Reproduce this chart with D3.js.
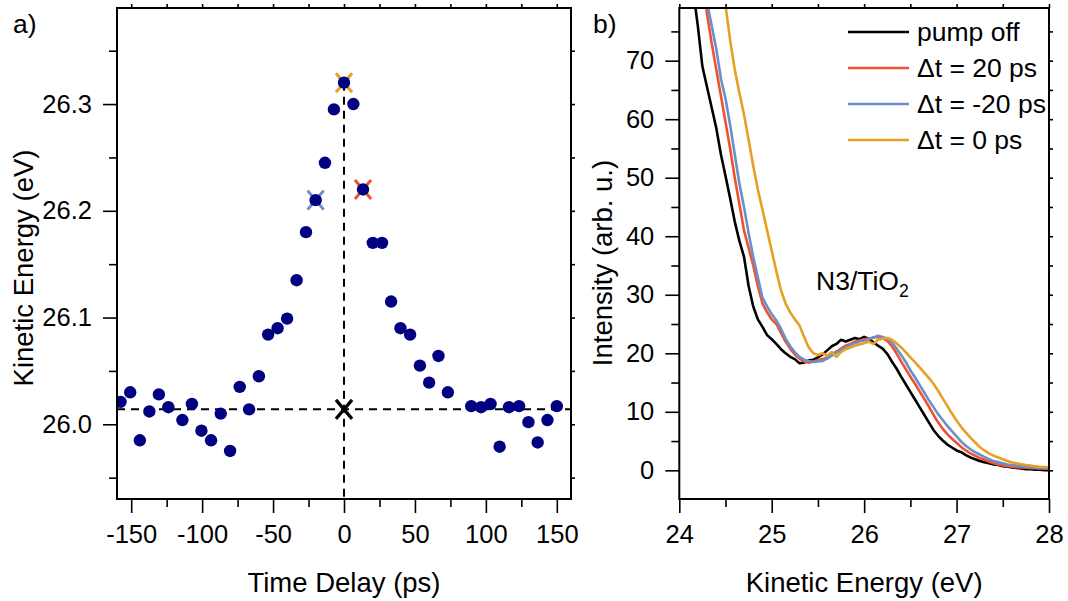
<!DOCTYPE html>
<html>
<head>
<meta charset="utf-8">
<script src="https://cdn.jsdelivr.net/npm/d3@7"></script>
<style>
  html, body { margin: 0; padding: 0; background: #fff; }
  svg text { font-family: "Liberation Sans", Arial, Helvetica, sans-serif; fill: #000; }
</style>
</head>
<body>
<svg id="fig" width="1068" height="601"></svg>
<script>
// ---- panel a) : peak position versus pump-probe delay ----
const delays = [-157.5, -150.7, -143.9, -137.2, -130.5, -123.8, -113.9, -107.2, -100.5, -93.7,
                -86.9, -80.3, -73.5, -66.9, -60.0, -53.5, -46.8, -40.1, -33.4, -26.8,
                -20.0, -13.4, -7.1, 0.0, 6.6, 13.4, 20.3, 26.8, 33.2, 39.8,
                46.6, 53.5, 60.0, 66.6, 73.2, 89.7, 96.6, 103.3, 109.7, 116.3,
                123.4, 130.0, 136.5, 143.4, 150.0];
const peakEnergies = [26.021, 26.030, 25.985, 26.012, 26.028, 26.016, 26.004, 26.019, 25.994, 25.985,
                      26.010, 25.975, 26.035, 26.014, 26.045, 26.084, 26.090, 26.099, 26.135, 26.180,
                      26.210, 26.245, 26.295, 26.320, 26.300, 26.220, 26.170, 26.170, 26.115, 26.090,
                      26.084, 26.055, 26.039, 26.064, 26.030, 26.017, 26.016, 26.019, 25.979, 26.016,
                      26.017, 26.002, 25.983, 26.004, 26.017];
// highlighted delays (matching the spectra in panel b)
const markDelays = [0, -20, 13.4];
const markEnergies = [26.32, 26.21, 26.22];
const markColors = ["#E8A024", "#6A8FCB", "#EE5230"];
// reference level (pump off)
const baseDelay = 0;
const baseEnergy = 26.014;

const xTicksA = [-150, -100, -50, 0, 50, 100, 150];
const xMinorA = [-125, -75, -25, 25, 75, 125];
const yTicksA = [26.0, 26.1, 26.2, 26.3];
const yMinorA = [25.95, 26.05, 26.15, 26.25, 26.35];

// ---- panel b) : photoemission spectra ----
const kineticEnergy = [24.10, 24.15, 24.20, 24.25, 24.30, 24.35, 24.40, 24.45, 24.50, 24.55,
                       24.60, 24.65, 24.70, 24.75, 24.80, 24.85, 24.90, 24.95, 25.00, 25.05,
                       25.10, 25.15, 25.20, 25.25, 25.30, 25.35, 25.40, 25.45, 25.50, 25.55,
                       25.60, 25.65, 25.70, 25.75, 25.80, 25.85, 25.90, 25.95, 26.00, 26.05,
                       26.10, 26.15, 26.20, 26.25, 26.30, 26.35, 26.40, 26.45, 26.50, 26.55,
                       26.60, 26.65, 26.70, 26.75, 26.80, 26.85, 26.90, 26.95, 27.00, 27.05,
                       27.10, 27.15, 27.20, 27.25, 27.30, 27.35, 27.40, 27.45, 27.50, 27.55,
                       27.60, 27.65, 27.70, 27.75, 27.80, 27.85, 27.90, 27.95, 28.00];
const pumpOff = [90, 82, 76, 69, 65.5, 62, 58.5, 54, 50.3, 46.5,
                 42.5, 39.2, 36.5, 31.5, 28, 25.8, 24.5, 23.1, 22.4, 21.6,
                 20.7, 20.0, 19.4, 19.0, 18.3, 18.4, 18.8, 18.9, 19.3, 19.8,
                 20.5, 21.2, 21.6, 22.3, 22.0, 22.3, 22.6, 22.4, 22.8, 22.5,
                 21.9, 21.3, 20.8, 19.9, 18.6, 17.4, 16.0, 14.7, 13.4, 12.1,
                 10.8, 9.5, 8.2, 6.9, 5.9, 5.1, 4.4, 3.9, 3.4, 3.1,
                 2.6, 2.2, 1.9, 1.6, 1.4, 1.2, 1.0, 0.9, 0.7, 0.6,
                 0.5, 0.4, 0.3, 0.2, 0.2, 0.1, 0.1, 0.0, 0.0];
const delayPlus20 = [null, null, null, 84, 78, 73, 68.5, 64, 59.5, 55,
                     50, 45.5, 41, 38, 35, 31.5, 28.5, 27, 25.8, 25,
                     23.5, 22, 20.8, 19.8, 19.1, 18.6, 18.4, 18.6, 18.8, 19.0,
                     19.3, 19.8, 20.3, 20.8, 21.3, 21.6, 22.0, 22.2, 22.4, 22.5,
                     22.7, 22.8, 22.6, 22.1, 21.2, 20.0, 18.6, 17.3, 16.0, 14.8,
                     13.5, 12.2, 10.9, 9.5, 8.2, 7.1, 6.2, 5.4, 4.7, 4.0,
                     3.4, 2.9, 2.5, 2.1, 1.8, 1.5, 1.2, 1.0, 0.85, 0.7,
                     0.6, 0.55, 0.5, 0.45, 0.4, 0.35, 0.3, 0.3, 0.3];
const delayMinus20 = [null, null, null, 86, 80, 76, 72, 67, 63.5, 59,
                      54, 49, 45, 40.5, 36.5, 33, 29.5, 28, 26.7, 25.6,
                      24.2, 22.5, 21.2, 20.2, 19.4, 18.9, 18.7, 18.5, 18.6, 18.7,
                      19.1, 19.6, 20.1, 20.6, 21.0, 21.4, 21.7, 22.0, 22.2, 22.4,
                      22.7, 23.0, 22.8, 22.5, 21.9, 20.8, 19.7, 18.5, 17.1, 15.9,
                      14.6, 13.3, 12.0, 10.8, 9.6, 8.6, 7.6, 6.7, 5.8, 4.9,
                      4.2, 3.6, 3.1, 2.7, 2.3, 1.9, 1.6, 1.4, 1.2, 1.0,
                      0.9, 0.8, 0.7, 0.6, 0.5, 0.45, 0.4, 0.35, 0.35];
const delayZero = [null, null, null, null, null, null, null, 84, 79.5, 73.5,
                   68.5, 64.5, 60.8, 56.5, 52, 48, 44.5, 41, 37.5, 34,
                   30.8, 28.5, 27.0, 25.8, 24.8, 22.8, 21.0, 20.0, 19.7, 20.0,
                   19.6, 20.2, 19.4, 20.2, 20.7, 21.0, 21.3, 21.5, 21.7, 22.0,
                   21.6, 22.3, 22.5, 22.6, 22.3, 21.7, 21.0, 20.2, 19.3, 18.5,
                   17.6, 16.7, 15.8, 14.8, 13.6, 12.3, 11.0, 9.7, 8.5, 7.4,
                   6.5, 5.6, 4.8, 4.0, 3.4, 2.9, 2.5, 2.2, 1.9, 1.6,
                   1.35, 1.2, 1.05, 0.9, 0.8, 0.7, 0.6, 0.55, 0.5];
const seriesNames = ["pump off", "\u0394t = 20 ps", "\u0394t = -20 ps", "\u0394t = 0 ps"];
const seriesColors = ["#000000", "#EE5230", "#6A8FCB", "#E8A024"];
const seriesValues = [pumpOff, delayPlus20, delayMinus20, delayZero];

const xTicksB = [24, 25, 26, 27, 28];
const xMinorB = [24.5, 25.5, 26.5, 27.5];
const yTicksB = [0, 10, 20, 30, 40, 50, 60, 70];
const yMinorB = [5, 15, 25, 35, 45, 55, 65, 75];

// ---- layout ----
const FS = 25.5;       // tick labels
const FT = 27.5;       // axis titles
const FL = 26.5;       // legend and annotations
const svg = d3.select("#fig");
const frameA = {x0: 117, x1: 571, y0: 8, y1: 499};
const frameB = {x0: 679.3, x1: 1049, y0: 8, y1: 499};

const xA = d3.scaleLinear().domain([-160, 160]).range([frameA.x0, frameA.x1]);
const yA = d3.scaleLinear().domain([25.93, 26.39]).range([frameA.y1, frameA.y0]);
const xB = d3.scaleLinear().domain([24, 28]).range([frameB.x0, frameB.x1]);
const yB = d3.scaleLinear().domain([-4.9, 79]).range([frameB.y1, frameB.y0]);

function styleAxis(g) {
  g.select(".domain").remove();
  g.selectAll(".tick line").attr("stroke", "#000").attr("stroke-width", 1.6);
  g.selectAll(".tick text").attr("font-size", FS).attr("fill", "#000");
}

function drawAxes(frame, xs, ys, xT, xM, yT, yM, xFmt, yFmt) {
  // bottom: major with labels, minor without
  svg.append("g").attr("transform", `translate(0,${frame.y1})`)
    .call(d3.axisBottom(xs).tickValues(xT).tickSize(14).tickPadding(12).tickFormat(xFmt))
    .call(styleAxis);
  svg.append("g").attr("transform", `translate(0,${frame.y1})`)
    .call(d3.axisBottom(xs).tickValues(xM).tickSize(8).tickFormat(""))
    .call(styleAxis);
  // left
  svg.append("g").attr("transform", `translate(${frame.x0},0)`)
    .call(d3.axisLeft(ys).tickValues(yT).tickSize(14).tickPadding(11).tickFormat(yFmt))
    .call(styleAxis);
  svg.append("g").attr("transform", `translate(${frame.x0},0)`)
    .call(d3.axisLeft(ys).tickValues(yM).tickSize(8).tickFormat(""))
    .call(styleAxis);
  // mirrored short ticks on top and right
  svg.append("g").attr("transform", `translate(0,${frame.y0})`)
    .call(d3.axisTop(xs).tickValues(xT.concat(xM)).tickSize(4).tickFormat(""))
    .call(styleAxis);
  svg.append("g").attr("transform", `translate(${frame.x1},0)`)
    .call(d3.axisRight(ys).tickValues(yT.concat(yM)).tickSize(4).tickFormat(""))
    .call(styleAxis);
  // frame
  svg.append("rect")
    .attr("x", frame.x0).attr("y", frame.y0)
    .attr("width", frame.x1 - frame.x0).attr("height", frame.y1 - frame.y0)
    .attr("fill", "none").attr("stroke", "#000").attr("stroke-width", 2);
}

// ================= panel a =================
svg.append("clipPath").attr("id", "clipA").append("rect")
  .attr("x", frameA.x0).attr("y", frameA.y0)
  .attr("width", frameA.x1 - frameA.x0).attr("height", frameA.y1 - frameA.y0);
const plotA = svg.append("g").attr("clip-path", "url(#clipA)");

// dashed guide lines through the reference level and time zero
plotA.append("line")
  .attr("x1", frameA.x0).attr("x2", frameA.x1)
  .attr("y1", yA(baseEnergy)).attr("y2", yA(baseEnergy))
  .attr("stroke", "#000").attr("stroke-width", 2).attr("stroke-dasharray", "8,6");
plotA.append("line")
  .attr("x1", xA(0)).attr("x2", xA(0))
  .attr("y1", yA(markEnergies[0])).attr("y2", frameA.y1)
  .attr("stroke", "#000").attr("stroke-width", 2).attr("stroke-dasharray", "8,6");

// cross markers
function crossPath(h) {
  return `M${-h * 0.85},${-h} L${h * 0.85},${h} M${-h * 0.85},${h} L${h * 0.85},${-h}`;
}
plotA.selectAll("path.mark").data(markDelays).join("path")
  .attr("class", "mark")
  .attr("transform", (d, i) => `translate(${xA(d)},${yA(markEnergies[i])})`)
  .attr("d", crossPath(9.5))
  .attr("fill", "none")
  .attr("stroke", (d, i) => markColors[i])
  .attr("stroke-width", 3);

// data points
plotA.selectAll("circle.pt").data(delays).join("circle")
  .attr("class", "pt")
  .attr("cx", d => xA(d))
  .attr("cy", (d, i) => yA(peakEnergies[i]))
  .attr("r", 6.2)
  .attr("fill", "#000080");

// reference marker
plotA.append("path")
  .attr("transform", `translate(${xA(baseDelay)},${yA(baseEnergy)})`)
  .attr("d", crossPath(9.5))
  .attr("fill", "none").attr("stroke", "#000").attr("stroke-width", 3.2);

drawAxes(frameA, xA, yA, xTicksA, xMinorA, yTicksA, yMinorA,
  d => String(d), d => d.toFixed(1));

svg.append("text").attr("x", (frameA.x0 + frameA.x1) / 2).attr("y", 592)
  .attr("text-anchor", "middle").attr("font-size", FT).text("Time Delay (ps)");
svg.append("text").attr("transform", "translate(33,268) rotate(-90)")
  .attr("text-anchor", "middle").attr("font-size", FT).text("Kinetic Energy (eV)");
svg.append("text").attr("x", 13).attr("y", 33).attr("font-size", FL).text("a)");

// ================= panel b =================
svg.append("clipPath").attr("id", "clipB").append("rect")
  .attr("x", frameB.x0).attr("y", frameB.y0)
  .attr("width", frameB.x1 - frameB.x0).attr("height", frameB.y1 - frameB.y0);
const plotB = svg.append("g").attr("clip-path", "url(#clipB)");

const line = d3.line()
  .defined(d => d[1] !== null)
  .x(d => xB(d[0]))
  .y(d => yB(d[1]));

seriesValues.forEach((vals, k) => {
  plotB.append("path")
    .datum(kineticEnergy.map((e, i) => [e, vals[i]]))
    .attr("d", line)
    .attr("fill", "none")
    .attr("stroke", seriesColors[k])
    .attr("stroke-width", 2.6)
    .attr("stroke-linejoin", "round");
});

drawAxes(frameB, xB, yB, xTicksB, xMinorB, yTicksB, yMinorB,
  d => String(d), d => String(d));

svg.append("text").attr("x", (frameB.x0 + frameB.x1) / 2).attr("y", 592)
  .attr("text-anchor", "middle").attr("font-size", FT).text("Kinetic Energy (eV)");
svg.append("text").attr("transform", "translate(612,263) rotate(-90)")
  .attr("text-anchor", "middle").attr("font-size", FT).text("Intensity (arb. u.)");
svg.append("text").attr("x", 593).attr("y", 33).attr("font-size", FL).text("b)");

// sample label
const lab = svg.append("text").attr("x", 816).attr("y", 290).attr("font-size", FL);
lab.append("tspan").text("N3/TiO");
lab.append("tspan").attr("font-size", 17.5).attr("dy", 7).text("2");

// legend
const legend = svg.append("g");
seriesNames.forEach((name, k) => {
  const y = 32 + k * 36;
  legend.append("line").attr("x1", 848).attr("x2", 909).attr("y1", y).attr("y2", y)
    .attr("stroke", seriesColors[k]).attr("stroke-width", 2.6);
  legend.append("text").attr("x", 917).attr("y", y).attr("dy", "0.35em")
    .attr("font-size", FL).text(name);
});
</script>
</body>
</html>
